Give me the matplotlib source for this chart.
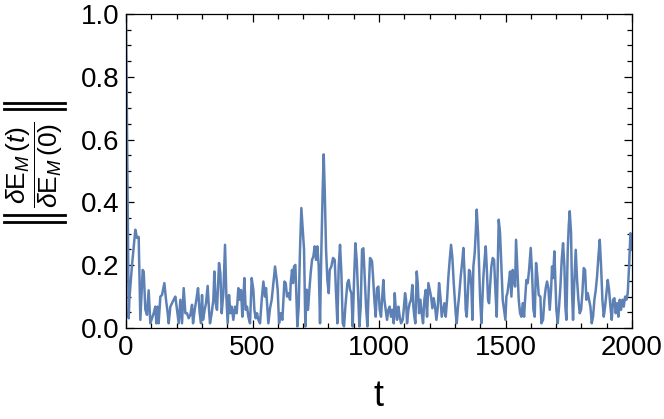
import matplotlib
matplotlib.use("Agg")
import matplotlib.pyplot as plt
from matplotlib.ticker import MultipleLocator
from matplotlib.lines import Line2D

plt.rcParams['font.family'] = ['Liberation Sans', 'DejaVu Sans']
plt.rcParams['mathtext.fontset'] = 'custom'
plt.rcParams['mathtext.rm'] = 'Liberation Sans'
plt.rcParams['mathtext.it'] = 'Liberation Sans:italic'
plt.rcParams['mathtext.bf'] = 'Liberation Sans:bold'

t = [0, 10.6, 13.2, 23.7, 36.9, 43.5, 50.1, 56.7, 65.9, 69.9, 76.5, 83, 89.6, 96.2,
     102.8, 109.4, 116, 120, 125, 129, 135.8, 142.4, 151.6, 158.2, 164.8, 168.7,
     175.3, 181.9, 188.5, 195.1, 201.7, 208.3, 214.9, 221.4, 228, 234.6, 241.2,
     247.8, 254.4, 261, 265, 271.5, 278.1, 284.7, 291.3, 296.6, 300.5, 304.5, 311,
     316.3, 322.8, 328.1, 332.1, 338.7, 345.3, 349.2, 354.5, 359.7, 367.7, 372.9,
     378.2, 384.8, 391.4, 396.7, 401.9, 407.2, 412.5, 417.7, 424.3, 430.9, 437.5,
     444.1, 449.4, 454.6, 459.9, 463.9, 467.8, 473.1, 478.4, 483.6, 490.2, 496.8,
     503.4, 507.4, 512.6, 517.9, 523.2, 529.8, 536.4, 543, 549.5, 553.5, 557.4,
     562.7, 569.3, 575.9, 582.5, 589.1, 595.7, 599.6, 604.9, 611.5, 618.1, 626,
     631.3, 636.5, 641.8, 648.4, 651, 656.2, 660.2, 664.1, 669.4, 673.4, 677.3,
     682.6, 687.8, 693.1, 698.4, 703.7, 708.9, 714.2, 719.5, 724.8, 730, 735.3,
     740.6, 745.8, 751.1, 756.4, 761.7, 766.9, 772.2, 777.5, 781.4, 785.4, 790.7,
     795.9, 801.2, 805.2, 811.7, 818.3, 824.9, 830.2, 835.5, 840.7, 846, 851.3,
     856.6, 861.8, 867.1, 875, 880.3, 885.5, 890.8, 896.1, 901.4, 906.6, 911.9,
     917.2, 922.5, 927.7, 933, 938.3, 943.5, 948.8, 954.1, 959.4, 964.6, 969.9,
     972.5, 976.4, 981.7, 987, 992.2, 997.5, 1002.8, 1008, 1012, 1017.3, 1021.2,
     1026.5, 1031.8, 1037, 1042.3, 1047.6, 1052.9, 1058.1, 1062.1, 1067.4, 1071.3,
     1076.6, 1081.9, 1087.1, 1093.7, 1097.7, 1102.9, 1106.9, 1110.8, 1116.1,
     1121.4, 1126.7, 1131.9, 1135.9, 1139.8, 1143.8, 1149.1, 1153, 1158.3, 1163.6,
     1168.8, 1174.1, 1179.4, 1184.7, 1189.9, 1195.2, 1200.5, 1205.7, 1211, 1216.3,
     1221.6, 1226.8, 1232.1, 1237.4, 1242.6, 1247.9, 1253.2, 1258.5, 1263.7, 1269,
     1274.3, 1279.5, 1284.8, 1290.1, 1295.4, 1303.2, 1307.1, 1312.4, 1316.4, 1323,
     1329.6, 1333.5, 1338.8, 1342.7, 1346.7, 1352, 1355.9, 1359.9, 1365.1, 1369.1,
     1373, 1378.3, 1382.3, 1386.2, 1391.5, 1395.5, 1399.4, 1404.7, 1412.6, 1417.9,
     1421.8, 1425.8, 1431, 1435, 1438.9, 1444.2, 1449.5, 1454.8, 1460, 1465.3,
     1469.3, 1473.2, 1478.5, 1483.8, 1489, 1494.3, 1499.6, 1503.5, 1507.5, 1512.8,
     1518, 1523.3, 1528.6, 1533.8, 1537.8, 1541.7, 1547, 1552.3, 1557.6, 1562.8,
     1568.1, 1573.4, 1577.3, 1582.6, 1587.9, 1593.2, 1599.7, 1605, 1610.3, 1615.5,
     1620.8, 1626.1, 1631.3, 1637.9, 1641.8, 1648.4, 1653.7, 1659, 1664.2, 1669.5,
     1674.8, 1680.1, 1684, 1688, 1693.2, 1697.2, 1701.1, 1706.4, 1711.7, 1717,
     1722.2, 1727.5, 1732.8, 1736.7, 1740.7, 1746, 1749.9, 1753.9, 1759.1, 1763.1,
     1767, 1772.3, 1777.6, 1782.9, 1788.1, 1793.4, 1798.7, 1803.9, 1809.2, 1814.5,
     1819.8, 1825, 1830.3, 1835.6, 1840.9, 1846.1, 1851.4, 1856.7, 1861.9, 1867.2,
     1872.5, 1877.8, 1883, 1888.3, 1893.6, 1898.8, 1904.1, 1909.4, 1914.7, 1919.9,
     1925.2, 1930.5, 1935.7, 1941, 1946.3, 1951.6, 1956.8, 1962.1, 1967.4, 1972.7,
     1977.9, 1983.2, 1988.5, 1993.7, 1999]

ratio = [1.0, 0.031, 0.09, 0.2, 0.313, 0.287, 0.29, 0.026, 0.185, 0.18, 0.058, 0.042,
         0.12, 0.015, 0.031, 0.047, 0.068, 0.015, 0.068, 0.015, 0.10, 0.105, 0.143,
         0.09, 0.047, 0.015, 0.068, 0.079, 0.09, 0.10, 0.058, 0.015, 0.09, 0.015,
         0.127, 0.047, 0.047, 0.031, 0.042, 0.074, 0.015, 0.058, 0.09, 0.127, 0.047,
         0.015, 0.105, 0.026, 0.058, 0.08, 0.134, 0.058, 0.015, 0.047, 0.09, 0.18,
         0.079, 0.058, 0.207, 0.175, 0.047, 0.111, 0.265, 0.10, 0.015, 0.105, 0.047,
         0.068, 0.026, 0.068, 0.047, 0.127, 0.09, 0.121, 0.036, 0.09, 0.159, 0.058,
         0.068, 0.036, 0.015, 0.159, 0.121, 0.058, 0.031, 0.047, 0.026, 0.015, 0.09,
         0.148, 0.10, 0.127, 0.079, 0.015, 0.063, 0.09, 0.143, 0.196, 0.153, 0.121,
         0.015, 0.047, 0.026, 0.148, 0.143, 0.10, 0.111, 0.09, 0.143, 0.185, 0.143,
         0.196, 0.201, 0.10, 0.005, 0.068, 0.25, 0.382, 0.318, 0.25, 0.005, 0.122,
         0.058, 0.122, 0.175, 0.217, 0.228, 0.26, 0.217, 0.26, 0.196, 0.015, 0.25,
         0.441, 0.553, 0.441, 0.25, 0.153, 0.111, 0.185, 0.196, 0.223, 0.217, 0.111,
         0.015, 0.196, 0.265, 0.175, 0.015, 0.005, 0.068, 0.143, 0.153, 0.122, 0.111,
         0.005, 0.153, 0.27, 0.217, 0.111, 0.005, 0.068, 0.25, 0.254, 0.164, 0.068,
         0.005, 0.122, 0.223, 0.217, 0.212, 0.164, 0.09, 0.036, 0.127, 0.132, 0.058,
         0.036, 0.09, 0.153, 0.09, 0.058, 0.026, 0.058, 0.068, 0.036, 0.058, 0.015,
         0.111, 0.047, 0.026, 0.068, 0.036, 0.015, 0.026, 0.058, 0.111, 0.09, 0.015,
         0.058, 0.079, 0.09, 0.137, 0.068, 0.036, 0.015, 0.18, 0.143, 0.047, 0.09,
         0.047, 0.015, 0.09, 0.121, 0.036, 0.143, 0.121, 0.10, 0.063, 0.095, 0.068,
         0.026, 0.063, 0.143, 0.10, 0.036, 0.058, 0.079, 0.036, 0.09, 0.164, 0.217,
         0.265, 0.223, 0.143, 0.047, 0.015, 0.068, 0.10, 0.164, 0.217, 0.255, 0.164,
         0.058, 0.036, 0.121, 0.185, 0.18, 0.132, 0.026, 0.196, 0.239, 0.302, 0.377,
         0.302, 0.196, 0.10, 0.015, 0.164, 0.223, 0.26, 0.196, 0.09, 0.079, 0.132,
         0.196, 0.223, 0.217, 0.121, 0.036, 0.196, 0.345, 0.302, 0.196, 0.09, 0.058,
         0.026, 0.10, 0.111, 0.143, 0.18, 0.10, 0.185, 0.159, 0.132, 0.281, 0.185,
         0.09, 0.047, 0.036, 0.079, 0.036, 0.09, 0.153, 0.143, 0.185, 0.255, 0.175,
         0.058, 0.036, 0.207, 0.164, 0.105, 0.10, 0.015, 0.026, 0.09, 0.127, 0.148,
         0.127, 0.058, 0.121, 0.196, 0.159, 0.244, 0.153, 0.058, 0.015, 0.068, 0.132,
         0.217, 0.27, 0.196, 0.068, 0.026, 0.249, 0.324, 0.372, 0.302, 0.111, 0.026,
         0.153, 0.249, 0.153, 0.09, 0.047, 0.058, 0.111, 0.191, 0.185, 0.09, 0.111,
         0.09, 0.068, 0.015, 0.036, 0.09, 0.121, 0.164, 0.228, 0.281, 0.196, 0.09,
         0.036, 0.068, 0.111, 0.153, 0.121, 0.068, 0.026, 0.09, 0.095, 0.047, 0.079,
         0.036, 0.09, 0.058, 0.09, 0.068, 0.10, 0.09, 0.111, 0.196, 0.302, 0.249]

x_ticks = [0, 500, 1000, 1500, 2000]
y_ticks = [0.0, 0.2, 0.4, 0.6, 0.8, 1.0]
y_tick_labels = ["0.0", "0.2", "0.4", "0.6", "0.8", "1.0"]

W, H = 664, 419
fig = plt.figure(figsize=(W / 100, H / 100), dpi=100)
ax = fig.add_axes([126 / W, 1 - 328 / H, 506 / W, 314 / H])
ax.plot(t, ratio, color='#5E81B5', lw=1.8, solid_joinstyle='round')

ax.set_xlim(0, 2000)
ax.set_ylim(0, 1.0)
ax.set_xticks(x_ticks)
ax.set_xticklabels([str(v) for v in x_ticks])
ax.set_yticks(y_ticks)
ax.set_yticklabels(y_tick_labels)
ax.xaxis.set_minor_locator(MultipleLocator(100))
ax.yaxis.set_minor_locator(MultipleLocator(0.05))
ax.tick_params(which='both', direction='in', top=True, right=True, labelsize=20,
               width=0.9, colors='black', pad=5)
ax.tick_params(which='major', length=6)
ax.tick_params(which='minor', length=3.5)
for s in ax.spines.values():
    s.set_linewidth(0.9)

fig.text(378 / W, 1 - 396 / H, 't', fontsize=26, ha='center', va='center')

# y label: rotated fraction between double bars
fig.text(35 / W, 1 - 165 / H,
         r'$\dfrac{\delta\mathrm{E}_{M}\,(t)}{\delta\mathrm{E}_{M}\,(0)}$',
         fontsize=19, rotation=90, ha='center', va='center')
for yb in (103.5, 109.5, 215.5, 222.0):
    fig.add_artist(Line2D([4 / W, 65 / W], [1 - yb / H, 1 - yb / H],
                          transform=fig.transFigure, color='black', lw=2.0))

fig.savefig('out.png', dpi=100)
